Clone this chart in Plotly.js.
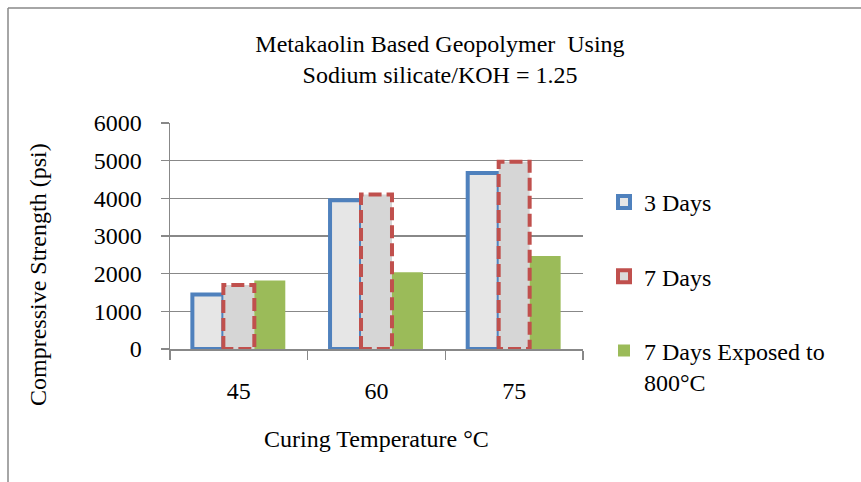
<!DOCTYPE html>
<html>
<head>
<meta charset="utf-8">
<script src="https://cdn.plot.ly/plotly-3.0.1.min.js"></script>
<style>html,body{margin:0;padding:0;background:#fff;}#chart{width:861px;height:482px;}</style>
</head>
<body>
<div id="chart"></div>
<script>
// ---- data ----
const categories = ['45', '60', '75'];
const days3 = [1450, 3950, 4670];
const days7 = [1700, 4100, 4970];
const days7Exposed = [1820, 2040, 2470];
const seriesNames = ['3 Days', '7 Days', '7 Days Exposed to<br>800°C'];
const yTicks = [0, 1000, 2000, 3000, 4000, 5000, 6000];

// ---- style ----
const FONT = '"Liberation Serif", "Times New Roman", serif';
const FS = 24;
const BLUE = '#4f81bd', RED = '#c0504d', GREEN = '#9bbb59', GRID = '#888888';
const W = 861, H = 482;
const M = {l: 170, r: 278, t: 123, b: 133};
const BW = 0.225;
const offs = [-0.3375, -0.1125, 0.1125];

const traces = [
  {type: 'bar', x: categories, y: days3, name: seriesNames[0], width: BW, offset: offs[0],
   marker: {color: '#e6e6e6', line: {color: BLUE, width: 4}}, legendgroup: 'a', legendrank: 1},
  {type: 'bar', x: categories, y: days7, name: seriesNames[1], width: BW, offset: offs[1],
   marker: {color: '#d6d6d6', line: {width: 0}}, showlegend: false, legendgroup: 'b'},
  {type: 'bar', x: categories, y: days7Exposed, name: seriesNames[2], width: BW, offset: offs[2],
   marker: {color: GREEN, line: {width: 0}}, legendgroup: 'c', legendrank: 3},
  // legend-only entry for the dashed-outline series
  {type: 'bar', x: categories, y: categories.map(() => null), name: seriesNames[1],
   marker: {color: '#dcdcdc', line: {color: RED, width: 4}}, legendgroup: 'b', legendrank: 2, hoverinfo: 'skip'}
];

// dashed outline for 7 Days bars, derived from the data
const ox = [], oy = [];
days7.forEach((v, i) => {
  const x0 = i + offs[1], x1 = x0 + BW;
  ox.push(x0, x0, x1, x1, x0, null);
  oy.push(0, v, v, 0, 0, null);
});
traces.push({type: 'scatter', mode: 'lines', x: ox, y: oy, xaxis: 'x2', yaxis: 'y',
  line: {color: RED, width: 4, dash: '13px,5px'}, showlegend: false, hoverinfo: 'skip'});

const pw = W - M.l - M.r, ph = H - M.t - M.b;
const px = v => (v - M.l) / pw;
const py = v => (H - M.b - v) / ph;

const layout = {
  width: W, height: H,
  margin: M,
  paper_bgcolor: '#fff', plot_bgcolor: '#fff',
  font: {family: FONT, size: FS, color: '#000'},
  showlegend: true,
  barmode: 'group',
  title: {text: 'Metakaolin Based Geopolymer  Using<br>Sodium silicate/KOH = 1.25',
          x: 440 / W, xanchor: 'center', y: 1 - 52 / H, yanchor: 'middle',
          font: {family: FONT, size: FS, color: '#000'}},
  xaxis: {type: 'category', range: [-0.5, 2.5], tickson: 'boundaries', ticks: 'outside', ticklen: 9,
          tickcolor: GRID, tickwidth: 1.5, showgrid: false, showline: true, linecolor: GRID, linewidth: 1.5,
          ticklabelstandoff: 20, zeroline: false,
          title: {text: 'Curing Temperature °C', standoff: 27, font: {family: FONT, size: FS}}},
  xaxis2: {overlaying: 'x', range: [-0.5, 2.5], visible: false},
  yaxis: {range: [0, 6000], tickvals: yTicks, ticktext: yTicks.map(String), ticks: 'outside', ticklen: 8,
          tickcolor: GRID, tickwidth: 1.5, showgrid: true, gridcolor: GRID, gridwidth: 1.5,
          showline: true, linecolor: GRID, linewidth: 1.5, zeroline: false, ticklabelstandoff: 14},
  annotations: [
    {text: 'Compressive Strength (psi)', textangle: -90, xref: 'paper', yref: 'paper',
     x: px(38), y: py(275), xanchor: 'center', yanchor: 'middle', showarrow: false,
     font: {family: FONT, size: FS, color: '#000'}}
  ],
  legend: {x: px(604), xanchor: 'left', y: py(180), yanchor: 'top', valign: 'top',
           traceorder: 'grouped', tracegroupgap: 40, font: {family: FONT, size: FS},
           bgcolor: 'rgba(0,0,0,0)', itemwidth: 30},
  shapes: [
    {type: 'line', xref: 'paper', yref: 'paper', x0: px(8), x1: px(W), y0: py(8), y1: py(8),
     line: {color: GRID, width: 1.5}},
    {type: 'line', xref: 'paper', yref: 'paper', x0: px(8), x1: px(8), y0: py(8), y1: py(H),
     line: {color: GRID, width: 1.5}}
  ]
};

Plotly.newPlot('chart', traces, layout, {displayModeBar: false, staticPlot: true});
</script>
</body>
</html>
